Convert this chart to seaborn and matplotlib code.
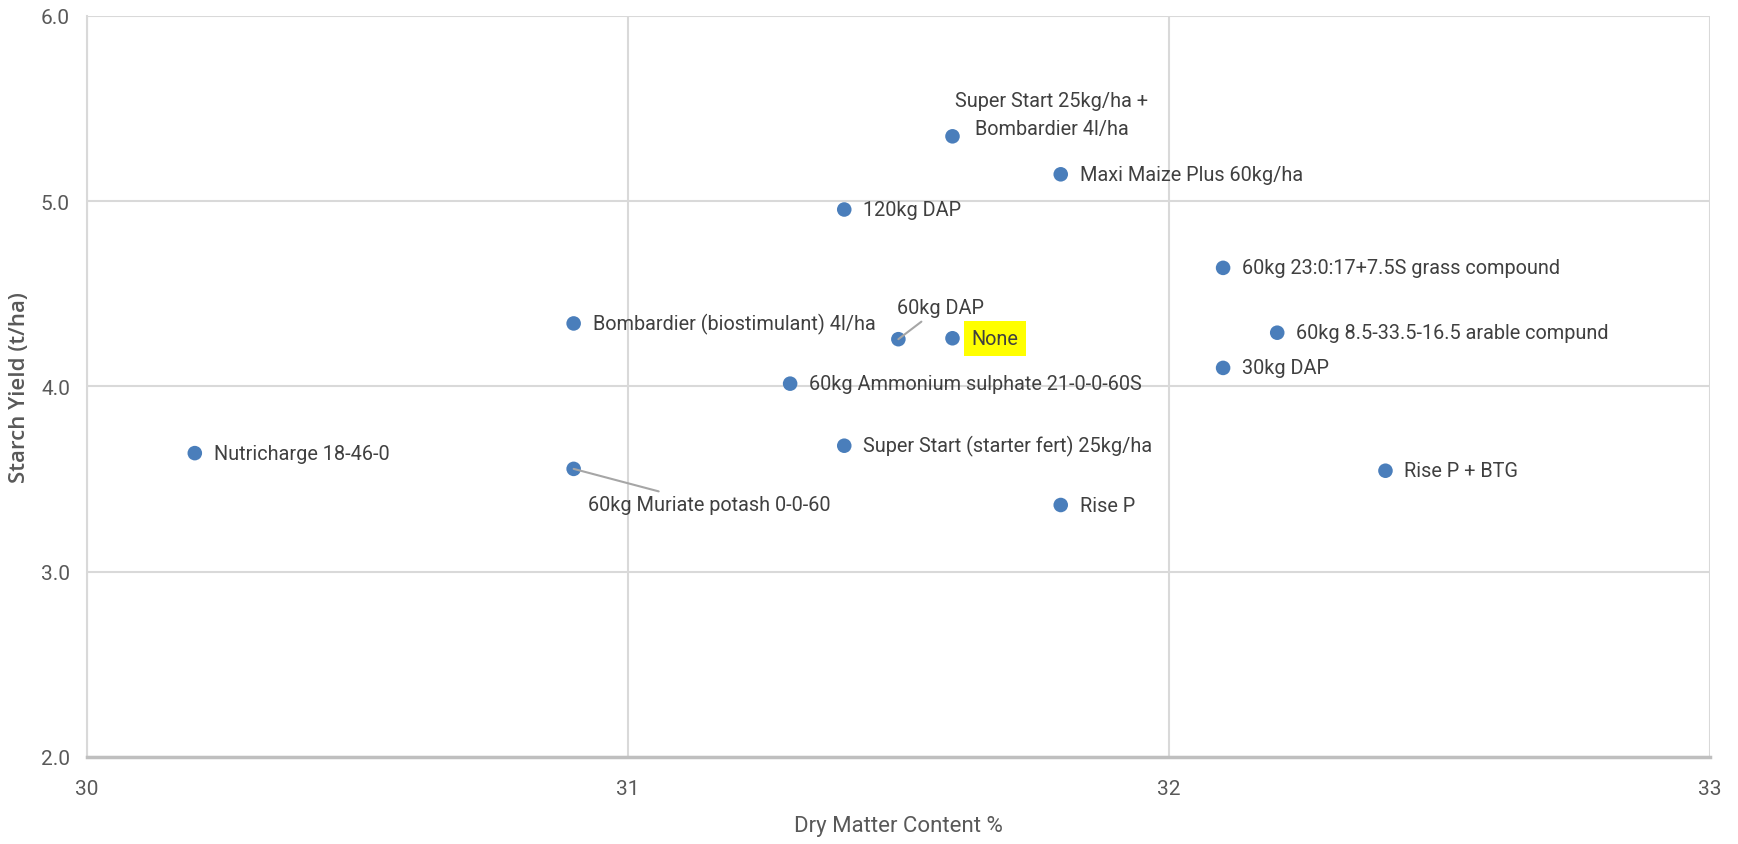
import matplotlib
matplotlib.use("Agg")
import matplotlib.pyplot as plt
import pandas as pd
import seaborn as sns

# Treatment labels with dry matter (%) and starch yield (t/ha)
treatments = [
    "Nutricharge 18-46-0",
    "Bombardier (biostimulant) 4l/ha",
    "60kg Muriate potash 0-0-60",
    "60kg Ammonium sulphate 21-0-0-60S",
    "120kg DAP",
    "Super Start (starter fert) 25kg/ha",
    "60kg DAP",
    "None",
    "Super Start 25kg/ha +\nBombardier 4l/ha",
    "Maxi Maize Plus 60kg/ha",
    "Rise P",
    "60kg 23:0:17+7.5S grass compound",
    "30kg DAP",
    "60kg 8.5-33.5-16.5 arable compund",
    "Rise P + BTG",
]
dry_matter = [30.2, 30.9, 30.9, 31.3, 31.4, 31.4, 31.5, 31.6, 31.6, 31.8, 31.8, 32.1, 32.1, 32.2, 32.4]
starch_yield = [3.64, 4.34, 3.555, 4.015, 4.955, 3.68, 4.255, 4.26, 5.35, 5.145, 3.36, 4.64, 4.10, 4.29, 3.545]

df = pd.DataFrame({"treatment": treatments, "dm": dry_matter, "starch": starch_yield})

sns.set_theme(style="white")
plt.rcParams["font.family"] = ["Roboto", "DejaVu Sans"]

fig = plt.figure(figsize=(17.38, 8.45), dpi=100)
ax = fig.add_axes([0.0498, 0.103, 0.9342, 0.877])

sns.scatterplot(data=df, x="dm", y="starch", ax=ax, s=110, color="#4a7ebb",
                edgecolor="none", zorder=3, legend=False)

grey = "#595959"
grid_col = "#d9d9d9"
label_size = 14.3

# label placement (pixel offsets), special cases get leader lines
special = {
    "60kg DAP": dict(off=(42, 32), ha="center", line=True),
    "60kg Muriate potash 0-0-60": dict(off=(136, -36), ha="center", line=True),
    "Super Start 25kg/ha +\nBombardier 4l/ha": dict(off=(99, 22), ha="center", line=False),
}

for _, row in df.iterrows():
    name = row["treatment"]
    opts = special.get(name)
    if opts is None:
        kw = dict(xytext=(19, 0), ha="left")
        if name == "None":
            kw["bbox"] = dict(boxstyle="square,pad=0.4", fc="#ffff00", ec="none")
        ax.annotate(name, (row["dm"], row["starch"]), textcoords="offset pixels",
                    va="center", fontsize=label_size, color="#404040", zorder=4, **kw)
    else:
        arrow = dict(arrowstyle="-", color="#a6a6a6", lw=1.5, shrinkA=2, shrinkB=0) if opts["line"] else None
        ax.annotate(name, (row["dm"], row["starch"]), xytext=opts["off"],
                    textcoords="offset pixels", ha=opts["ha"], va="center",
                    fontsize=label_size, color="#404040", linespacing=1.6,
                    arrowprops=arrow, zorder=4)

ax.set_xlim(30, 33)
ax.set_ylim(2, 6)
ax.set_xticks([30, 31, 32, 33])
ax.set_yticks([2, 3, 4, 5, 6])
ax.set_yticklabels([f"{v:.1f}" for v in [2, 3, 4, 5, 6]])
ax.grid(True, color=grid_col, lw=1.5)
ax.set_axisbelow(True)
for side in ["top", "right"]:
    ax.spines[side].set_visible(False)
ax.spines["left"].set_color(grid_col)
ax.spines["left"].set_linewidth(1.5)
ax.spines["bottom"].set_color("#bfbfbf")
ax.spines["bottom"].set_linewidth(2.5)
ax.tick_params(axis="both", colors=grey, labelsize=15, length=0, pad=12)
ax.tick_params(axis="x", pad=16)

ax.set_xlabel("Dry Matter Content %", fontsize=16, color=grey, labelpad=12)
ax.set_ylabel("Starch Yield (t/ha)", fontsize=16, color=grey, labelpad=8,
              family=["Open Sans", "DejaVu Sans"], fontweight="semibold")

fig.savefig("out.png", dpi=100, facecolor="white")
